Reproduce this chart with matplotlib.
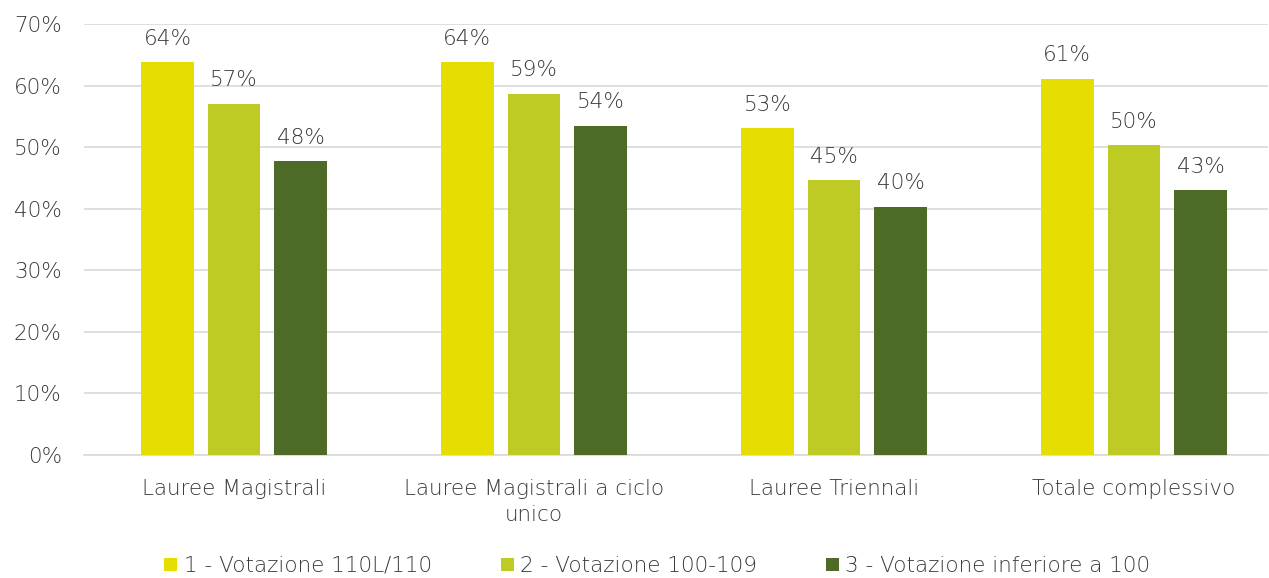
import numpy as np
from matplotlib import pyplot as plt

categories = ["Lauree Magistrali", "Lauree Magistrali a ciclo\nunico", "Lauree Triennali", "Totale complessivo"]
series_names = ["1 - Votazione 110L/110", "2 - Votazione 100-109", "3 - Votazione inferiore a 100"]
voto_110 = [63.8, 63.8, 53.1, 61.1]
voto_100_109 = [57.0, 58.7, 44.6, 50.3]
voto_sotto_100 = [47.7, 53.5, 40.3, 43.0]
colors = ["#E6DE00", "#BDCB24", "#4E6A27"]

plt.rcParams['font.family'] = ['DejaVu Sans']
plt.rcParams['font.weight'] = 'light'
txt = "#3A3A3A"
fs = 15.5

fig = plt.figure(figsize=(12.69, 5.78), dpi=100)
ax = fig.add_axes([0.0662, 0.2128, 0.9330, 0.7457])

x = np.arange(len(categories))
offsets = [-0.222, 0, 0.222]
bw = 0.175
for vals, off, c, name in zip([voto_110, voto_100_109, voto_sotto_100], offsets, colors, series_names):
    bars = ax.bar(x + off, vals, bw, color=c, label=name, zorder=3)
    for b, v in zip(bars, vals):
        ax.text(b.get_x() + b.get_width() / 2, v + 2.2, "{:.0f}%".format(v),
                ha="center", va="bottom", fontsize=fs, color=txt)

ax.set_ylim(0, 70)
ax.set_xlim(-0.5, 3.447)
ax.set_yticks(range(0, 71, 10))
ax.set_yticklabels(["{}%".format(t) for t in range(0, 71, 10)])
ax.yaxis.grid(True, color="#D9D9D9", linewidth=1.2, zorder=0)
ax.set_xticks(x)
ax.set_xticklabels(categories, linespacing=1.4)
ax.tick_params(axis="both", length=0, labelsize=fs, labelcolor=txt)
ax.tick_params(axis="y", pad=16)
ax.tick_params(axis="x", pad=17)
for s in ["top", "right", "left"]:
    ax.spines[s].set_visible(False)
ax.spines["bottom"].set_color("#D9D9D9")
ax.spines["bottom"].set_linewidth(1.2)

fig.legend(loc="lower center", bbox_to_anchor=(0.518, -0.03), ncol=3, frameon=False,
           fontsize=fs, labelcolor=txt, handlelength=0.6, handleheight=0.6,
           handletextpad=0.3, columnspacing=3.2)

fig.savefig("out.png", dpi=100)
